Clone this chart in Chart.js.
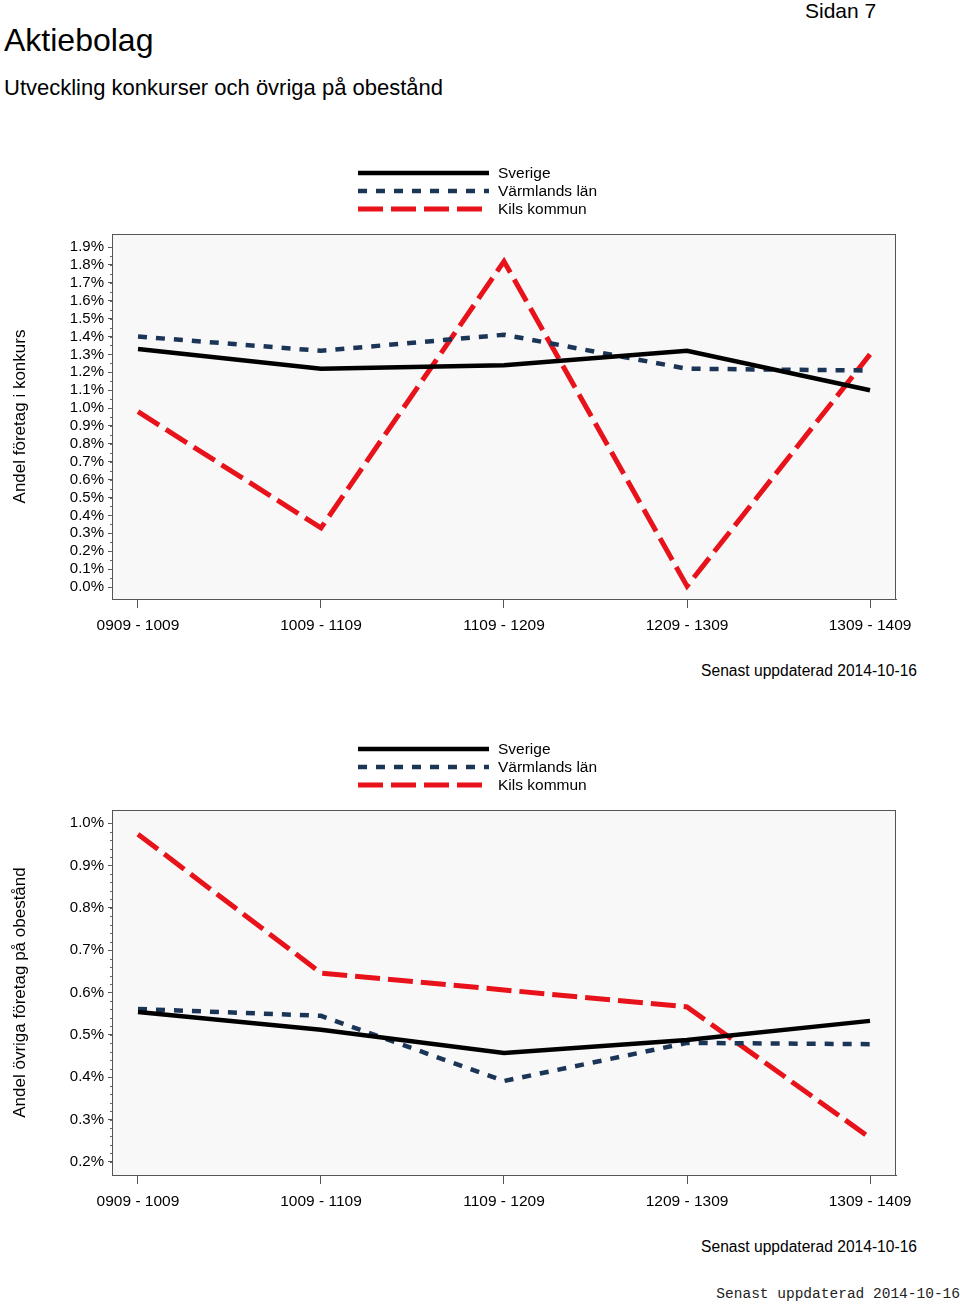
<!DOCTYPE html>
<html>
<head>
<meta charset="utf-8">
<script src="https://cdn.jsdelivr.net/npm/chart.js@4.4.1/dist/chart.umd.min.js"></script>
<style>
  body { margin: 0; background: #fff; font-family: "Liberation Sans", Arial, sans-serif; }
  .page { position: relative; width: 960px; height: 1306px; }
  .abs { position: absolute; white-space: nowrap; color: #000; }
  canvas { position: absolute; left: 0; }
</style>
</head>
<body>
<div class="page">
  <div class="abs" style="left:4px; top:22px; font-size:32px;">Aktiebolag</div>
  <div class="abs" style="left:805px; top:-1px; font-size:21px;">Sidan 7</div>
  <div class="abs" style="left:4px; top:75px; font-size:22px;">Utveckling konkurser och övriga på obestånd</div>
  <canvas id="chart1" width="960" height="500" style="top:150px"></canvas>
  <div class="abs" style="right:43px; top:662px; font-size:15.6px;">Senast uppdaterad 2014-10-16</div>
  <canvas id="chart2" width="960" height="500" style="top:726px"></canvas>
  <div class="abs" style="right:43px; top:1238px; font-size:15.6px;">Senast uppdaterad 2014-10-16</div>
  <div class="abs" style="right:0px; top:1286px; font-size:14.5px; font-family:'Liberation Mono', monospace; color:#222;">Senast uppdaterad 2014-10-16</div>
</div>
<script>
const periods = ["0909 - 1009", "1009 - 1109", "1109 - 1209", "1209 - 1309", "1309 - 1409"];
const seriesNames = ["Sverige", "Värmlands län", "Kils kommun"];

// Andel företag i konkurs (%)
const konkursSverige = [1.33, 1.22, 1.24, 1.32, 1.10];
const konkursVarmland = [1.40, 1.32, 1.41, 1.22, 1.21];
const konkursKil = [0.98, 0.33, 1.82, 0.005, 1.30];

// Andel övriga företag på obestånd (%)
const obestandSverige = [0.554, 0.512, 0.457, 0.488, 0.533];
const obestandVarmland = [0.561, 0.545, 0.391, 0.481, 0.478];
const obestandKil = [0.974, 0.646, 0.606, 0.566, 0.257];

const konkursTicks = [0, 0.1, 0.2, 0.3, 0.4, 0.5, 0.6, 0.7, 0.8, 0.9, 1.0, 1.1, 1.2, 1.3, 1.4, 1.5, 1.6, 1.7, 1.8, 1.9];
const obestandTicks = [0.2, 0.3, 0.4, 0.5, 0.6, 0.7, 0.8, 0.9, 1.0];

const styles = [
  { color: "#000000", width: 4.5, dash: [] },
  { color: "#1b3557", width: 4.5, dash: [9, 9] },
  { color: "#e8121a", width: 5, dash: [25, 8] }
];

const FONT = "'Liberation Sans', Arial, sans-serif";

const boxPlugin = {
  id: "box",
  beforeDraw(chart) {
    const { ctx, chartArea: a } = chart;
    ctx.save();
    ctx.fillStyle = "#f8f8f8";
    ctx.fillRect(a.left, a.top, a.right - a.left, a.bottom - a.top);
    ctx.restore();
  },
  afterDraw(chart) {
    const { ctx, chartArea: a } = chart;
    ctx.save();
    ctx.strokeStyle = "#555";
    ctx.lineWidth = 1;
    ctx.strokeRect(a.left + 0.5, a.top + 0.5, a.right - a.left - 1, a.bottom - a.top);
    // minor ticks
    const y = chart.scales.y;
    const step = chart.options.minorStep;
    const majors = chart.options.majorTicks;
    ctx.beginPath();
    for (let v = majors[0]; v <= majors[majors.length - 1] + 1e-9; v += step) {
      const py = Math.round(y.getPixelForValue(v)) + 0.5;
      ctx.moveTo(a.left - 2, py);
      ctx.lineTo(a.left, py);
    }
    ctx.strokeStyle = "#666";
    ctx.stroke();
    // legend
    const rows = [23, 41, 59];
    seriesNames.forEach((name, i) => {
      const s = styles[i];
      ctx.beginPath();
      ctx.setLineDash(s.dash);
      ctx.lineWidth = s.width;
      ctx.strokeStyle = s.color;
      ctx.moveTo(358, rows[i]);
      ctx.lineTo(489, rows[i]);
      ctx.stroke();
      ctx.setLineDash([]);
      ctx.fillStyle = "#000";
      ctx.font = "15.5px " + FONT;
      ctx.textBaseline = "middle";
      ctx.fillText(name, 498, rows[i] + 1);
    });
    ctx.restore();
  }
};

function makeChart(id, values, yMin, yMax, majors, minorStep, title) {
  const datasets = values.map((vals, i) => ({
    label: seriesNames[i],
    data: vals.map((v, j) => ({ x: j, y: v })),
    borderColor: styles[i].color,
    borderWidth: styles[i].width,
    borderDash: styles[i].dash,
    pointRadius: 0,
    tension: 0,
    fill: false
  }));
  return new Chart(document.getElementById(id), {
    type: "line",
    data: { datasets },
    plugins: [boxPlugin],
    options: {
      responsive: false,
      animation: false,
      devicePixelRatio: 1,
      minorStep: minorStep,
      majorTicks: majors,
      layout: { padding: { top: 84, right: 64, left: 0, bottom: 0 } },
      plugins: { legend: { display: false }, tooltip: { enabled: false } },
      scales: {
        x: {
          type: "linear",
          min: -0.142,
          max: 4.142,
          afterFit: (s) => { s.height = 51; },
          afterBuildTicks: (s) => { s.ticks = periods.map((p, i) => ({ value: i })); },
          grid: { drawOnChartArea: false, tickLength: 9, color: "#555" },
          border: { color: "#555" },
          ticks: {
            callback: (v) => periods[v],
            color: "#000",
            font: { family: FONT, size: 15.5 },
            padding: 8,
            maxRotation: 0,
            autoSkip: false
          }
        },
        y: {
          min: yMin,
          max: yMax,
          afterFit: (s) => { s.width = 112; },
          afterBuildTicks: (s) => { s.ticks = majors.map((v) => ({ value: v })); },
          grid: { drawOnChartArea: false, tickLength: 4, color: "#555" },
          border: { color: "#555" },
          title: {
            display: true,
            text: title,
            color: "#000",
            font: { family: FONT, size: 17 },
            padding: { top: 10, bottom: 0 }
          },
          ticks: {
            callback: (v) => v.toFixed(1) + "%",
            color: "#000",
            font: { family: FONT, size: 15 },
            padding: 4,
            autoSkip: false
          }
        }
      }
    }
  });
}

makeChart("chart1", [konkursSverige, konkursVarmland, konkursKil], -0.067, 1.973, konkursTicks, 0.05, "Andel företag i konkurs");
makeChart("chart2", [obestandSverige, obestandVarmland, obestandKil], 0.169, 1.031, obestandTicks, 0.02, "Andel övriga företag på obestånd");
</script>
</body>
</html>
